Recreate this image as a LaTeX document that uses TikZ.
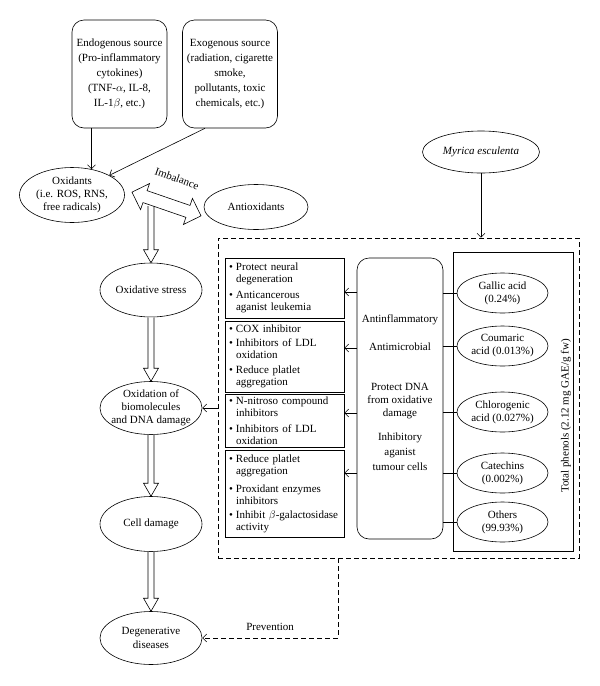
\documentclass[tikz,border=0pt]{standalone}
\usepackage{fontspec}
\setmainfont{Liberation Serif}
\usetikzlibrary{shapes.geometric,shapes.arrows,calc,arrows.meta}

\newcommand{\itm}{\makebox[7pt][l]{\textbullet}}
\newcommand{\ind}{\hspace*{7pt}}
% hollow arrow between two points
\newcommand{\fatarrow}[2]{%
  \draw[fill=white] let \p1=(#1), \p2=(#2) in
    (\x1-3pt,\y1) -- (\x1-3pt,\y2+13pt) -- (\x1-7.5pt,\y2+13pt) -- (\x1,\y2)
    -- (\x1+7.5pt,\y2+13pt) -- (\x1+3pt,\y2+13pt) -- (\x1+3pt,\y1);}

\begin{document}
\begin{tikzpicture}[x=1pt,y=-1pt,line width=0.6pt,>={Straight Barb[length=4pt,width=8pt]},
  every node/.style={font=\fontsize{11}{13}\selectfont},
  srcbox/.style={draw,rounded corners=12pt,minimum width=95pt,minimum height=108pt,
    align=center,inner sep=1pt,font=\fontsize{11}{15}\selectfont},
  oval/.style={draw,ellipse,minimum width=102pt,minimum height=54pt,align=center,inner sep=-5pt},
  phenol/.style={draw,ellipse,minimum width=91pt,minimum height=40pt,align=center,inner sep=-3pt},
  effbox/.style={draw,text width=111pt,align=left,inner xsep=4pt,inner ysep=2pt,
    font=\fontsize{11}{12}\selectfont}]
	\useasboundingbox (0,0) rectangle (600,686);

	% sources of oxidants
	\node[srcbox] (endo) at (119.5,74) {Endogenous source\\(Pro-inflammatory\\cytokines)\\(TNF-$\alpha$, IL-8,\\IL-1$\beta$, etc.)};
	\node[srcbox] (exo) at (230,74) {Exogenous source\\(radiation, cigarette\\smoke,\\pollutants, toxic\\chemicals, etc.)};

	% left chain
	\node[oval,minimum width=105pt,minimum height=55pt] (ox) at (72,195) {Oxidants\\(i.e. ROS, RNS,\\free radicals)};
	\node[oval,minimum width=104pt,minimum height=45pt] (anti) at (256,207) {Antioxidants};
	\node[oval] (os) at (151,290) {Oxidative stress};
	\node[oval,minimum height=53pt] (oxb) at (151,408) {Oxidation of\\biomolecules\\and DNA damage};
	\node[oval,minimum height=55pt] (cd) at (151,524) {Cell damage};
	\node[oval,minimum height=53pt,font=\fontsize{11}{14}\selectfont] (deg) at (151,638) {Degenerative\\diseases};

	\draw[->] (endo.south -| ox.53) -- (ox.53);
	\draw[->] ([xshift=-25pt]exo.south) -- (ox.north east);

	\coordinate (stem) at (151,206);
	\fatarrow{stem}{os.north}
	\fatarrow{os.south}{oxb.north}
	\fatarrow{oxb.south}{cd.north}
	\fatarrow{cd.south}{deg.north}
	\node[double arrow,draw,fill=white,rotate=-19,minimum height=73pt,inner sep=6pt,
	  double arrow head extend=7.5pt] (imb) at (166.5,204) {};
	\node[rotate=-20,inner sep=1pt] (imbl) at (177,178.5) {Imbalance};

	% Myrica esculenta
	\node[draw,ellipse,minimum width=117pt,minimum height=42pt,inner sep=0pt] (me) at (481,152) {\textit{Myrica esculenta}};
	\node[draw,dash pattern=on 5pt off 3pt,minimum width=361pt,minimum height=320pt] (grp) at (398.5,398) {};
	\draw[->] (me.south) -- (me.south |- grp.north);

	% effects
	\node[effbox,minimum height=60pt] (b1) at (284.5,288) {\itm Protect neural\\ \ind degeneration\\[4pt] \itm Anticancerous\\ \ind aganist leukemia};
	\node[effbox,minimum height=71pt] (b2) at (284.5,356.5) {\itm COX inhibitor\\[2pt] \itm Inhibitors of LDL\\ \ind oxidation\\[3pt] \itm Reduce platlet\\ \ind aggregation};
	\node[effbox,minimum height=53pt] (b3) at (284.5,420.5) {\itm N-nitroso compound\\ \ind inhibitors\\[4pt] \itm Inhibitors of LDL\\ \ind oxidation};
	\node[effbox,minimum height=87pt] (b4) at (284.5,493.5) {\itm Reduce platlet\\ \ind aggregation\\[6pt] \itm Proxidant enzymes\\ \ind inhibitors\\[2pt] \itm Inhibit $\beta$-galactosidase\\ \ind activity};

	\node[draw,rounded corners=12pt,minimum width=86pt,minimum height=281pt] (eff) at (400,398.5) {};
	\node[anchor=north,align=center,inner sep=0pt] (efftxt) at (400,314) {Antinflammatory\\[15pt] Antimicrobial\\[27pt] Protect DNA\\from oxidative\\damage\\[11pt] Inhibitory\\[2pt] aganist\\[2pt] tumour cells};

	\foreach \b/\s in {b1/-4,b2/8.5,b3/7.5,b4/20.5}
		\draw[->] ([yshift=\s pt]eff.west |- \b.east) -- ([yshift=\s pt]\b.east);

	% phenols
	\node[draw,minimum width=120pt,minimum height=299pt] (tot) at (513,401.5) {};
	\node[rotate=90] (totl) at (566,416) {Total phenols (2.12 mg GAE/g fw)};
	\node[phenol] (ga) at (502.5,293) {Gallic acid\\(0.24\%)};
	\node[phenol] (cu) at (502.5,346) {Coumaric\\acid (0.013\%)};
	\node[phenol] (ch) at (502.5,412) {Chlorogenic\\acid (0.027\%)};
	\node[phenol] (ca) at (502.5,473) {Catechins\\(0.002\%)};
	\node[phenol] (ot) at (502.5,522) {Others\\(99.93\%)};
	\foreach \n in {ga,cu,ch,ca,ot}
		\draw (eff.east |- \n.west) -- (\n.west);

	\draw[->] (grp.west |- oxb.east) -- (oxb.east);
	\draw[dash pattern=on 5pt off 3pt,->] ([xshift=-60.5pt]grp.south) |- (deg.east) node[pos=0.75,above=4pt] {Prevention};

\end{tikzpicture}
\end{document}
